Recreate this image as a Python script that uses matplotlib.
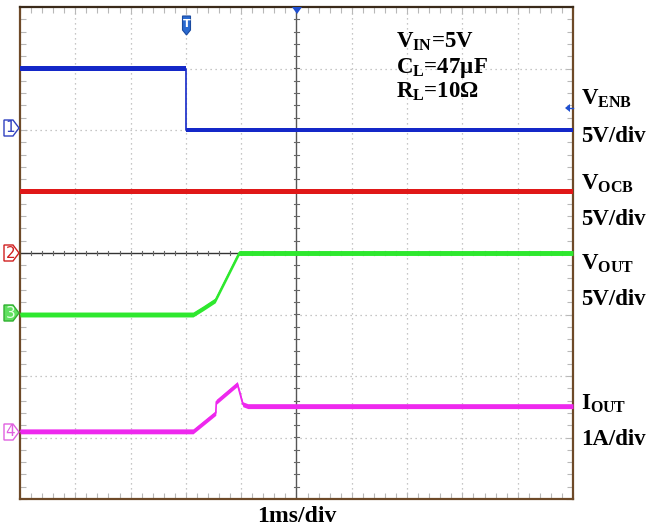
import matplotlib
matplotlib.use("Agg")
import matplotlib.pyplot as plt
from matplotlib.patches import Polygon
from matplotlib.ticker import MultipleLocator
import numpy as np

# ---------------- data (time in ms relative to screen centre) ----------------
t_enb = [-5.0, -2.0, -2.0, 5.0]
v_enb = [5.0, 5.0, 0.0, 0.0]            # V, 5 V/div, offset +2 div

t_ocb = [-5.0, 5.0]
v_ocb = [5.0, 5.0]                       # V, 5 V/div, offset 0 div

t_out = [-5.0, -1.87, -1.69, -1.47, -1.04, 5.0]
v_out = [0.0, 0.0, 0.5, 1.15, 5.0, 5.0]  # V, 5 V/div, offset -1 div

t_iout = [-5.0, -1.87, -1.46, -1.45, -1.07, -0.97, -0.88, 5.0]
i_iout = [0.0, 0.0, 0.30, 0.48, 0.77, 0.44, 0.41, 0.41]  # A, 1 A/div, offset -2.9 div

channels = [
    (t_enb, v_enb, 5.0, 2.0, "#1428c8"),
    (t_ocb, v_ocb, 5.0, 0.0, "#e01818"),
    (t_out, v_out, 5.0, -1.0, "#2ee82e"),
    (t_iout, i_iout, 1.0, -2.9, "#ee28ee"),
]

right_labels = [
    (r"$\mathrm{V_{ENB}}$", 105),
    ("5V/div", 142),
    (r"$\mathrm{V_{OCB}}$", 190),
    ("5V/div", 225),
    (r"$\mathrm{V_{OUT}}$", 270),
    ("5V/div", 305),
    (r"$\mathrm{I_{OUT}}$", 410),
    ("1A/div", 445),
]
cond_labels = [
    (r"$\mathrm{V_{IN}}$=5V", 48),
    (r"$\mathrm{C_{L}}$=47µF", 73),
    (r"$\mathrm{R_{L}}$=10Ω", 98),
]

# ---------------- figure ----------------
W, H = 649, 527
plt.rcParams["mathtext.fontset"] = "custom"
plt.rcParams["mathtext.rm"] = "Liberation Serif:bold"
plt.rcParams["mathtext.bf"] = "Liberation Serif:bold"
plt.rcParams["mathtext.it"] = "Liberation Serif:bold:italic"

fig = plt.figure(figsize=(W / 100, H / 100), dpi=100)
L, R, T, B = 20, 573, 7, 499
ax = fig.add_axes([L / W, 1 - B / H, (R - L) / W, (B - T) / H])
ax.set_xlim(-5, 5)
ax.set_ylim(-4, 4)

def fp(x, y):
    return (x / W, 1 - y / H)

# grid
for gx in range(-4, 5):
    if gx != 0:
        ax.axvline(gx, color="#b4b4b4", lw=0.9, ls=(0, (1, 3)), zorder=1)
for gy in range(-3, 4):
    if gy != 0:
        ax.axhline(gy, color="#b4b4b4", lw=0.9, ls=(0, (1, 3)), zorder=1)
ax.axvline(0, color="#555555", lw=1.0, zorder=2)
ax.axhline(0, color="#333333", lw=1.0, zorder=2)
for tx in np.arange(-5, 5.01, 0.2):
    ax.plot([tx, tx], [-0.04, 0.04], color="#666666", lw=0.8, zorder=2)
for ty in np.arange(-4, 4.01, 0.2):
    ax.plot([-0.05, 0.05], [ty, ty], color="#666666", lw=0.8, zorder=2)

# traces
for t, v, sc, off, col in channels:
    y = np.array(v) / sc + off
    ax.fill_between(t, y - 0.04, y + 0.04, color=col, lw=0, zorder=4)
    ax.plot(t, y, color=col, lw=1.2, zorder=5)

# frame + border ticks
for s in ax.spines.values():
    s.set_color("#6e4a28")
    s.set_linewidth(1.6)
ax.spines["top"].set_color("#3a2a1a")
ax.xaxis.set_major_locator(MultipleLocator(1))
ax.yaxis.set_major_locator(MultipleLocator(1))
ax.xaxis.set_minor_locator(MultipleLocator(0.2))
ax.yaxis.set_minor_locator(MultipleLocator(0.2))
ax.tick_params(which="both", direction="in", top=True, right=True,
               labelbottom=False, labelleft=False, color="#b8b8b8", width=0.8)
ax.tick_params(which="major", length=5)
ax.tick_params(which="minor", length=4)

# channel markers on the left
def chan_marker(yc, num, edge, face, tcol):
    pts = [fp(4, yc - 8), fp(13, yc - 8), fp(19, yc), fp(13, yc + 8), fp(4, yc + 8)]
    fig.add_artist(Polygon(pts, closed=True, transform=fig.transFigure,
                           facecolor=face, edgecolor=edge, lw=1.0))
    fig.text(*fp(10.5, yc), num, color=tcol, fontsize=11, ha="center", va="center",
             family="DejaVu Sans")

chan_marker(128, "1", "#3040c0", "white", "#3040c0")
chan_marker(253, "2", "#d02020", "white", "#d02020")
chan_marker(313, "3", "#30b030", "#60e060", "#e8ffe8")
chan_marker(432, "4", "#e060e0", "white", "#e060e0")

# trigger marker
tp = [fp(182.5, 16), fp(190.5, 16), fp(190.5, 30), fp(186.5, 35), fp(182.5, 30)]
fig.add_artist(Polygon(tp, closed=True, transform=fig.transFigure,
                       facecolor="#2a6ad0", edgecolor="#1a4aa0", lw=0.8))
fig.text(*fp(186.5, 24), "T", color="white", fontsize=8, ha="center", va="center",
         weight="bold", family="DejaVu Sans")
fig.add_artist(Polygon([fp(292, 7), fp(302, 7), fp(297, 14)], closed=True,
                       transform=fig.transFigure, facecolor="#1f4fd0", edgecolor="none"))
fig.add_artist(Polygon([fp(565, 108), fp(570, 104), fp(570, 112)], closed=True,
                       transform=fig.transFigure, facecolor="#1f4fd0", edgecolor="none"))
fig.add_artist(plt.Line2D([567 / W, 573 / W], [1 - 108 / H, 1 - 108 / H],
                          transform=fig.transFigure, color="#1f4fd0", lw=1))

# texts
for s, yb in right_labels:
    fig.text(*fp(581, yb), s, fontsize=16.5, family="Liberation Serif", weight="bold",
             ha="left", va="baseline")
for s, yb in cond_labels:
    fig.text(*fp(396, yb), s, fontsize=16.5, family="Liberation Serif", weight="bold",
             ha="left", va="baseline")
fig.text(*fp(297, 522), "1ms/div", fontsize=17, family="Liberation Serif", weight="bold",
         ha="center", va="baseline")

fig.savefig("out.png", dpi=100)
